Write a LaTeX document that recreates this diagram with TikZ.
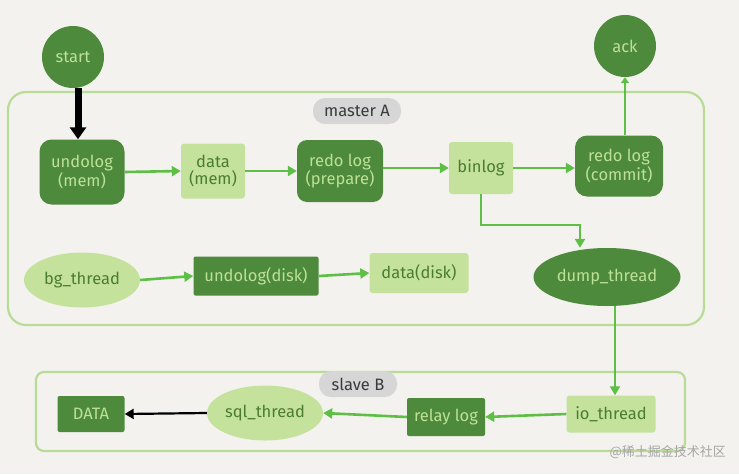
\documentclass[tikz,border=0pt]{standalone}
\usepackage{fontspec}
\setmainfont{Fira Sans}
\newfontfamily\cjkfont{Noto Sans CJK SC}
\usetikzlibrary{shapes.geometric,arrows.meta}
\definecolor{bgc}{HTML}{F3F2EE}
\definecolor{darkg}{HTML}{4E8A3C}
\definecolor{darktxt}{HTML}{BDE196}
\definecolor{lightg}{HTML}{C4E29C}
\definecolor{lighttxt}{HTML}{4A7D30}
\definecolor{arrowg}{HTML}{5DBF45}
\definecolor{frameg}{HTML}{B8DC95}
\definecolor{pillg}{HTML}{D6D6D6}
\definecolor{pilltxt}{HTML}{3A3A3A}
\tikzset{
  dk/.style={fill=darkg, text=darktxt, font=\fontsize{16.5}{17}\selectfont, align=center, inner sep=0pt},
  lt/.style={fill=lightg, text=lighttxt, font=\fontsize{16.5}{17}\selectfont, align=center, inner sep=0pt},
  dkbox/.style={dk, rectangle, rounded corners=6pt},
  ltbox/.style={lt, rectangle, rounded corners=3pt},
  frame/.style={draw=frameg, line width=2.2pt, rounded corners=18pt},
  pill/.style={fill=pillg, text=pilltxt, rounded corners=12pt, font=\fontsize{16.5}{17}\selectfont, inner sep=0pt},
  garrow/.style={draw=arrowg, line width=2.6pt, -{Triangle[length=9pt,width=10pt]}},
  barrow/.style={draw=black, line width=2.2pt, -{Triangle[length=9pt,width=10pt]}},
}
\begin{document}
\begin{tikzpicture}[x=1pt,y=-1pt]
\fill[bgc] (0,0) rectangle (739,474);
\useasboundingbox (0,0) rectangle (739,474);
% frames
\draw[frame] (8,92) rectangle (704,325);
\draw[frame, rounded corners=8pt] (36,372) rectangle (685,451);
\node[pill, minimum width=88pt, minimum height=26pt] (mA) at (357,111) {master A};
\node[pill, minimum width=78pt, minimum height=26pt] (sB) at (358,384) {slave B};
% top circles
\node[dk, circle, minimum size=62pt] (start) at (73,57) {start};
\node[dk, circle, minimum size=62pt] (ack) at (625,46) {ack};
% master row 1
\node[dkbox, minimum width=85pt, minimum height=65pt, rounded corners=12pt] (um) at (82,172) {undolog\\(mem)};
\node[ltbox, minimum width=64pt, minimum height=55pt] (dm) at (213,171) {data\\(mem)};
\node[dkbox, minimum width=86pt, minimum height=62pt, rounded corners=10pt] (rp) at (340,171) {redo log\\(prepare)};
\node[ltbox, minimum width=64pt, minimum height=52pt] (bl) at (481,168) {binlog};
\node[dkbox, minimum width=88pt, minimum height=61pt, rounded corners=12pt] (rc) at (619,166) {redo log\\(commit)};
% master row 2
\node[lt, ellipse, minimum width=116pt, minimum height=55pt] (bg) at (82,280) {bg\_thread};
\node[dkbox, minimum width=125pt, minimum height=39pt, rounded corners=2pt] (ud) at (256,276) {undolog(disk)};
\node[ltbox, minimum width=99pt, minimum height=40pt] (dd) at (419,273) {data(disk)};
\node[dk, ellipse, minimum width=147pt, minimum height=58pt] (dt) at (607,277) {dump\_thread};
% slave row
\node[dkbox, minimum width=67pt, minimum height=36pt, rounded corners=2pt] (DATA) at (91,414) {DATA};
\node[lt, ellipse, minimum width=116pt, minimum height=55pt] (sql) at (265,413) {sql\_thread};
\node[dkbox, minimum width=78pt, minimum height=38pt, rounded corners=2pt] (rl) at (446,417) {relay log};
\node[ltbox, minimum width=89pt, minimum height=37pt] (io) at (611,414) {io\_thread};
% connectors
\draw[barrow, line width=7pt, -{Triangle[length=12pt,width=16pt]}] (start.south -| 78,0) -- (um.north -| 78,0);
\draw[garrow] (um.east) -- (dm.west);
\draw[garrow] (dm.east) -- (rp.west);
\draw[garrow] (rp.east |- bl.west) -- (bl.west);
\draw[garrow] (bl.east) -- (rc.west |- bl.east);
\draw[garrow, -{Triangle[length=6pt,width=8pt]}] (rc.north -| ack.south) -- (ack.south);
\coordinate (bend) at (580,225);
\draw[garrow] (bl.south) |- (bend) -- (bend |- dt.north);
\draw[garrow] (bg.east) -- (ud.west);
\draw[garrow] (ud.east) -- (dd.west);
\draw[garrow] (dt.south -| 615,0) -- (io.north -| 615,0);
\draw[garrow] (io.west) -- (rl.east);
\draw[garrow] (rl.west) -- (sql.east);
\draw[barrow] (sql.west) -- (DATA.east);
% watermark
\node[text=gray!70, font=\cjkfont\fontsize{13}{14}\selectfont, anchor=east, inner sep=0pt] (wm) at (726,452) {@稀土掘金技术社区};
\end{tikzpicture}
\end{document}
